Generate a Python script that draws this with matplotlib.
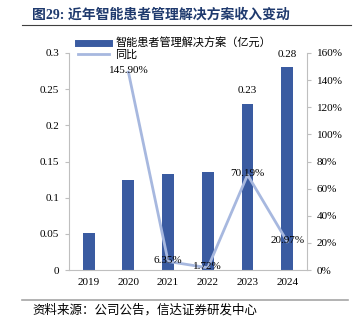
import matplotlib.pyplot as plt
from matplotlib.lines import Line2D

plt.rcParams['font.family'] = ['Liberation Serif', 'Noto Sans CJK SC']

# Revenue (100m yuan) and YoY growth (%)
years = ['2019', '2020', '2021', '2022', '2023', '2024']
revenue = [0.051, 0.125, 0.133, 0.136, 0.23, 0.28]
yoy_years = ['2020', '2021', '2022', '2023', '2024']
yoy = [145.90, 6.35, 1.72, 70.19, 20.97]

bar_color = '#3A5BA1'
line_color = '#A7B8DF'
grey = '#BFBFBF'

fig = plt.figure(figsize=(3.53, 3.27), dpi=100)
ax = fig.add_axes([0.195, 0.174, 0.675, 0.664])
ax2 = ax.twinx()

x = list(range(len(years)))
ax.bar(x, revenue, width=0.3, color=bar_color, zorder=2)
ax.set_ylim(0, 0.3)
ax.set_yticks([0, 0.05, 0.1, 0.15, 0.2, 0.25, 0.3])
ax.set_yticklabels(['0', '0.05', '0.1', '0.15', '0.2', '0.25', '0.3'])
ax.set_xlim(-0.5, len(years) - 0.5)
ax.set_xticks(x)
ax.set_xticklabels(years)

for i in (4, 5):
    ax.annotate(f'{revenue[i]:.2f}', (x[i], revenue[i]), xytext=(0, 6),
                textcoords='offset points', ha='center', va='bottom', fontsize=8)

xl = [years.index(y) for y in yoy_years]
ax2.plot(xl, yoy, color=line_color, lw=2, zorder=3)
ax2.set_ylim(0, 160)
ax2.set_yticks(range(0, 161, 20))
ax2.set_yticklabels([f'{v}%' for v in range(0, 161, 20)])
for xi, v in zip(xl, yoy):
    ax2.text(xi, v + 1, f'{v:.2f}%', ha='center', va='center', fontsize=8, zorder=4)

for a in (ax, ax2):
    for s in a.spines.values():
        s.set_visible(False)
    a.tick_params(labelsize=8, color=grey, length=3, pad=4)
ax.spines['left'].set_visible(True)
ax.spines['left'].set_color(grey)
ax.spines['bottom'].set_visible(True)
ax.spines['bottom'].set_color(grey)
ax2.spines['right'].set_visible(True)
ax2.spines['right'].set_color(grey)
ax.tick_params(axis='x', length=0, pad=6)

handles = [Line2D([], [], color=bar_color, lw=5),
           Line2D([], [], color=line_color, lw=2)]
fig.legend(handles, ['智能患者管理解决方案（亿元）', '同比'], loc='upper left',
           bbox_to_anchor=(0.222, 0.885), frameon=False, fontsize=8,
           handlelength=2.8, handletextpad=0.5, labelspacing=0.1,
           borderaxespad=0, borderpad=0)

fig.text(0.092, 0.955, '图29: 近年智能患者管理解决方案收入变动', fontsize=10,
         fontweight='bold', color='#1F3A6E', va='center')
fig.add_artist(Line2D([0.062, 0.995], [0.925, 0.925], color='#404040', lw=0.8))
fig.add_artist(Line2D([0.062, 0.985], [0.083, 0.083], color='#A6A6A6', lw=1.2))
fig.text(0.092, 0.05, '资料来源：公司公告，信达证券研发中心', fontsize=9,
         style='italic', va='center')

fig.savefig('out.png', dpi=100)
